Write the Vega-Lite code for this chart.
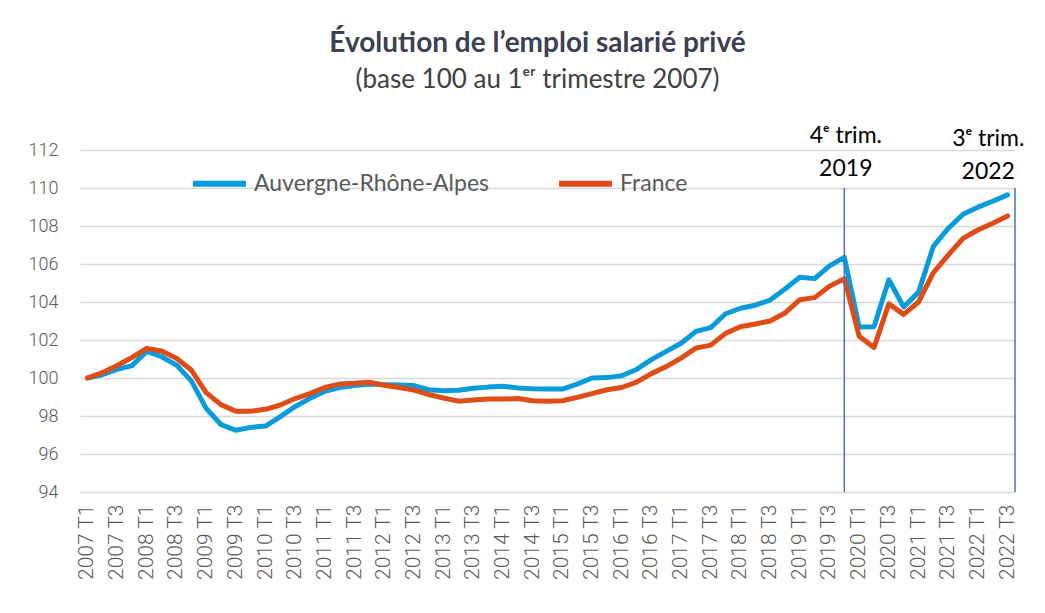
{
  "$schema": "https://vega.github.io/schema/vega-lite/v6.json",
  "width": 935,
  "height": 342,
  "autosize": {"type": "none"},
  "padding": {"left": 80, "top": 150, "right": 30, "bottom": 121},
  "background": "white",
  "title": {
    "text": "Évolution de l’emploi salarié privé",
    "subtitle": "(base 100 au  1ᵉʳ trimestre 2007)",
    "anchor": "middle",
    "dx": -10,
    "font": "Lato",
    "fontSize": 28,
    "fontWeight": "bold",
    "color": "#3b4150",
    "subtitleFont": "Lato",
    "subtitleFontSize": 26,
    "subtitleColor": "#404040",
    "subtitlePadding": 9,
    "offset": 32
  },
  "config": {
    "view": {"stroke": null},
    "axis": {"labelFont": "Roboto", "labelFontWeight": 300, "labelColor": "#595959", "ticks": false, "domain": false}
  },
  "datasets": {
    "emploi": [
      {"q": "2007 T1", "Auvergne-Rhône-Alpes": 100.0, "France": 100.0},
      {"q": "2007 T2", "Auvergne-Rhône-Alpes": 100.17, "France": 100.28},
      {"q": "2007 T3", "Auvergne-Rhône-Alpes": 100.45, "France": 100.66},
      {"q": "2007 T4", "Auvergne-Rhône-Alpes": 100.65, "France": 101.08},
      {"q": "2008 T1", "Auvergne-Rhône-Alpes": 101.4, "France": 101.56},
      {"q": "2008 T2", "Auvergne-Rhône-Alpes": 101.12, "France": 101.42},
      {"q": "2008 T3", "Auvergne-Rhône-Alpes": 100.68, "France": 101.04},
      {"q": "2008 T4", "Auvergne-Rhône-Alpes": 99.85, "France": 100.42},
      {"q": "2009 T1", "Auvergne-Rhône-Alpes": 98.4, "France": 99.23},
      {"q": "2009 T2", "Auvergne-Rhône-Alpes": 97.55, "France": 98.6},
      {"q": "2009 T3", "Auvergne-Rhône-Alpes": 97.25, "France": 98.25},
      {"q": "2009 T4", "Auvergne-Rhône-Alpes": 97.4, "France": 98.25},
      {"q": "2010 T1", "Auvergne-Rhône-Alpes": 97.47, "France": 98.35},
      {"q": "2010 T2", "Auvergne-Rhône-Alpes": 97.97, "France": 98.58},
      {"q": "2010 T3", "Auvergne-Rhône-Alpes": 98.5, "France": 98.92},
      {"q": "2010 T4", "Auvergne-Rhône-Alpes": 98.93, "France": 99.18},
      {"q": "2011 T1", "Auvergne-Rhône-Alpes": 99.3, "France": 99.5},
      {"q": "2011 T2", "Auvergne-Rhône-Alpes": 99.5, "France": 99.68},
      {"q": "2011 T3", "Auvergne-Rhône-Alpes": 99.6, "France": 99.72},
      {"q": "2011 T4", "Auvergne-Rhône-Alpes": 99.68, "France": 99.78},
      {"q": "2012 T1", "Auvergne-Rhône-Alpes": 99.65, "France": 99.62},
      {"q": "2012 T2", "Auvergne-Rhône-Alpes": 99.63, "France": 99.5},
      {"q": "2012 T3", "Auvergne-Rhône-Alpes": 99.6, "France": 99.36},
      {"q": "2012 T4", "Auvergne-Rhône-Alpes": 99.38, "France": 99.13},
      {"q": "2013 T1", "Auvergne-Rhône-Alpes": 99.33, "France": 98.95},
      {"q": "2013 T2", "Auvergne-Rhône-Alpes": 99.35, "France": 98.78},
      {"q": "2013 T3", "Auvergne-Rhône-Alpes": 99.46, "France": 98.84},
      {"q": "2013 T4", "Auvergne-Rhône-Alpes": 99.52, "France": 98.89},
      {"q": "2014 T1", "Auvergne-Rhône-Alpes": 99.56, "France": 98.89},
      {"q": "2014 T2", "Auvergne-Rhône-Alpes": 99.48, "France": 98.92},
      {"q": "2014 T3", "Auvergne-Rhône-Alpes": 99.44, "France": 98.8},
      {"q": "2014 T4", "Auvergne-Rhône-Alpes": 99.42, "France": 98.77},
      {"q": "2015 T1", "Auvergne-Rhône-Alpes": 99.42, "France": 98.8},
      {"q": "2015 T2", "Auvergne-Rhône-Alpes": 99.68, "France": 98.98},
      {"q": "2015 T3", "Auvergne-Rhône-Alpes": 100.0, "France": 99.18},
      {"q": "2015 T4", "Auvergne-Rhône-Alpes": 100.02, "France": 99.38},
      {"q": "2016 T1", "Auvergne-Rhône-Alpes": 100.12, "France": 99.5},
      {"q": "2016 T2", "Auvergne-Rhône-Alpes": 100.45, "France": 99.78},
      {"q": "2016 T3", "Auvergne-Rhône-Alpes": 100.97, "France": 100.23},
      {"q": "2016 T4", "Auvergne-Rhône-Alpes": 101.4, "France": 100.6},
      {"q": "2017 T1", "Auvergne-Rhône-Alpes": 101.83, "France": 101.05},
      {"q": "2017 T2", "Auvergne-Rhône-Alpes": 102.45, "France": 101.57},
      {"q": "2017 T3", "Auvergne-Rhône-Alpes": 102.65, "France": 101.73},
      {"q": "2017 T4", "Auvergne-Rhône-Alpes": 103.38, "France": 102.35},
      {"q": "2018 T1", "Auvergne-Rhône-Alpes": 103.67, "France": 102.7},
      {"q": "2018 T2", "Auvergne-Rhône-Alpes": 103.83, "France": 102.84},
      {"q": "2018 T3", "Auvergne-Rhône-Alpes": 104.1, "France": 103.0},
      {"q": "2018 T4", "Auvergne-Rhône-Alpes": 104.68, "France": 103.42},
      {"q": "2019 T1", "Auvergne-Rhône-Alpes": 105.3, "France": 104.12},
      {"q": "2019 T2", "Auvergne-Rhône-Alpes": 105.23, "France": 104.23},
      {"q": "2019 T3", "Auvergne-Rhône-Alpes": 105.9, "France": 104.83},
      {"q": "2019 T4", "Auvergne-Rhône-Alpes": 106.35, "France": 105.23},
      {"q": "2020 T1", "Auvergne-Rhône-Alpes": 102.68, "France": 102.2},
      {"q": "2020 T2", "Auvergne-Rhône-Alpes": 102.7, "France": 101.6},
      {"q": "2020 T3", "Auvergne-Rhône-Alpes": 105.17, "France": 103.9},
      {"q": "2020 T4", "Auvergne-Rhône-Alpes": 103.74, "France": 103.35},
      {"q": "2021 T1", "Auvergne-Rhône-Alpes": 104.52, "France": 104.0},
      {"q": "2021 T2", "Auvergne-Rhône-Alpes": 106.93, "France": 105.55},
      {"q": "2021 T3", "Auvergne-Rhône-Alpes": 107.87, "France": 106.47},
      {"q": "2021 T4", "Auvergne-Rhône-Alpes": 108.62, "France": 107.35},
      {"q": "2022 T1", "Auvergne-Rhône-Alpes": 108.99, "France": 107.79},
      {"q": "2022 T2", "Auvergne-Rhône-Alpes": 109.3, "France": 108.14},
      {"q": "2022 T3", "Auvergne-Rhône-Alpes": 109.64, "France": 108.53}
    ]
  },
  "layer": [
    {
      "data": {"name": "emploi"},
      "transform": [{"fold": ["Auvergne-Rhône-Alpes", "France"], "as": ["serie", "valeur"]}],
      "mark": {"type": "line", "strokeWidth": 5, "strokeCap": "round", "strokeJoin": "round"},
      "encoding": {
        "x": {
          "field": "q", "type": "ordinal", "sort": null, "bandPosition": 0.5,
          "scale": {"type": "band", "paddingInner": 0, "paddingOuter": 0},
          "axis": {
            "title": null, "labelAngle": -90, "labelFontSize": 21, "labelPadding": 12,
            "labelOverlap": false, "grid": false,
            "labelExpr": "indexof(datum.label, 'T2') >= 0 || indexof(datum.label, 'T4') >= 0 ? '' : datum.label"
          }
        },
        "y": {
          "field": "valeur", "type": "quantitative",
          "scale": {"domain": [94, 112], "zero": false, "nice": false},
          "axis": {
            "title": null, "values": [94, 96, 98, 100, 102, 104, 106, 108, 110, 112],
            "labelOverlap": false, "labelFontSize": 18, "labelPadding": 22,
            "grid": true, "gridColor": "#d9d9d9", "gridWidth": 1.5
          }
        },
        "color": {
          "field": "serie", "type": "nominal",
          "scale": {"domain": ["Auvergne-Rhône-Alpes", "France"], "range": ["#0a9bdc", "#e04c15"]},
          "legend": {
            "title": null, "orient": "none", "direction": "horizontal", "legendX": 110, "legendY": 4,
            "symbolType": "stroke", "symbolSize": 2800, "symbolStrokeWidth": 6,
            "labelFont": "Lato", "labelFontSize": 23, "labelColor": "#595959", "labelOffset": 5,
            "columnPadding": 58, "labelLimit": 400
          }
        }
      }
    },
    {
      "data": {"values": [{"q": "2019 T4"}]},
      "mark": {"type": "rule", "color": "#4a72c0", "strokeWidth": 1.5},
      "encoding": {
        "x": {"field": "q", "type": "ordinal", "sort": null, "bandPosition": 0.5},
        "y": {"datum": 94, "type": "quantitative", "axis": {"title": null, "values": [94, 96, 98, 100, 102, 104, 106, 108, 110, 112], "labelOverlap": false, "labelFontSize": 18, "labelPadding": 22, "grid": true, "gridColor": "#d9d9d9", "gridWidth": 1.5}},
        "y2": {"datum": 110}
      }
    },
    {
      "data": {"values": [{"q": "2022 T3"}]},
      "mark": {"type": "rule", "color": "#4a72c0", "strokeWidth": 1.5},
      "encoding": {
        "x": {"field": "q", "type": "ordinal", "sort": null, "bandPosition": 1},
        "y": {"datum": 94, "type": "quantitative", "axis": {"title": null, "values": [94, 96, 98, 100, 102, 104, 106, 108, 110, 112], "labelOverlap": false, "labelFontSize": 18, "labelPadding": 22, "grid": true, "gridColor": "#d9d9d9", "gridWidth": 1.5}},
        "y2": {"datum": 110}
      }
    },
    {
      "data": {"values": [{"q": "2019 T4", "texte": "4ᵉ trim.\n2019"}]},
      "mark": {"type": "text", "font": "Lato", "fontSize": 23, "color": "#000000", "lineBreak": "\n", "lineHeight": 33, "baseline": "bottom", "align": "center", "clip": false},
      "encoding": {
        "x": {"field": "q", "type": "ordinal", "sort": null, "bandPosition": 0.6},
        "y": {"datum": 112.1, "type": "quantitative", "axis": {"title": null, "values": [94, 96, 98, 100, 102, 104, 106, 108, 110, 112], "labelOverlap": false, "labelFontSize": 18, "labelPadding": 22, "grid": true, "gridColor": "#d9d9d9", "gridWidth": 1.5}},
        "text": {"field": "texte"}
      }
    },
    {
      "data": {"values": [{"q": "2022 T2", "texte": "3ᵉ trim.\n2022"}]},
      "mark": {"type": "text", "font": "Lato", "fontSize": 23, "color": "#000000", "lineBreak": "\n", "lineHeight": 33, "baseline": "bottom", "align": "center", "clip": false},
      "encoding": {
        "x": {"field": "q", "type": "ordinal", "sort": null, "bandPosition": 0.2},
        "y": {"datum": 111.95, "type": "quantitative", "axis": {"title": null, "values": [94, 96, 98, 100, 102, 104, 106, 108, 110, 112], "labelOverlap": false, "labelFontSize": 18, "labelPadding": 22, "grid": true, "gridColor": "#d9d9d9", "gridWidth": 1.5}},
        "text": {"field": "texte"}
      }
    }
  ]
}
